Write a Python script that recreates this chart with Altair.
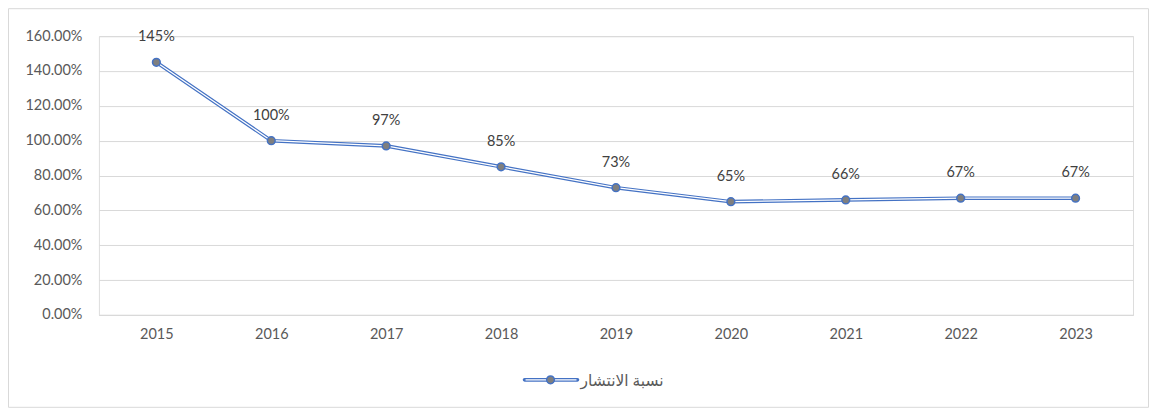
import altair as alt
import pandas as pd

years = ["2015", "2016", "2017", "2018", "2019", "2020", "2021", "2022", "2023"]
values = [1.45, 1.00, 0.97, 0.85, 0.73, 0.65, 0.66, 0.67, 0.67]
y_ticks = [0, 0.2, 0.4, 0.6, 0.8, 1.0, 1.2, 1.4, 1.6]
series_name = "نسبة الانتشار"

df = pd.DataFrame({"year": years, "value": values})

W, H = 1035, 279
PAD_L, PAD_T, PAD_R, PAD_B = 91, 28, 16, 93
BLUE = "#4472C4"
FONT = "Lato, DejaVu Sans, sans-serif"
FS = 14.5

x_enc = alt.X("year:N", sort=years, scale=alt.Scale(type="point", padding=0.5),
              axis=alt.Axis(title=None, labelAngle=0, ticks=False, domain=True,
                            domainColor="#d9d9d9", labelPadding=13, labelFontSize=FS,
                            labelColor="#595959", labelFont=FONT, grid=False))
y_enc = alt.Y("value:Q", scale=alt.Scale(domain=[0, 1.6], nice=False),
              axis=alt.Axis(title=None, values=y_ticks, format=".2%", ticks=False,
                            domain=False, labelPadding=17, labelFontSize=FS,
                            labelColor="#595959", labelFont=FONT, gridColor="#d9d9d9",
                            gridWidth=1))

base = alt.Chart(df).encode(x=x_enc, y=y_enc)

outer = base.mark_line(color=BLUE, strokeWidth=3.6)
inner = base.mark_line(color="white", strokeWidth=1.3)
pts = base.mark_point(filled=True, fill="#7f7f7f", stroke=BLUE, strokeWidth=1.5,
                      size=60, opacity=1, shape="circle")
labels = base.mark_text(dy=-25, fontSize=FS, color="#404040", font=FONT).encode(
    text=alt.Text("value:Q", format=".0%"))

# legend (decorative)
leg = pd.DataFrame({"name": [series_name]})
leg_base = alt.Chart(leg)
leg_outer = leg_base.mark_rule(color=BLUE, strokeWidth=3.6, strokeCap="round").encode(
    x=alt.value(426), x2=alt.value(479), y=alt.value(344))
leg_inner = leg_base.mark_rule(color="white", strokeWidth=1.3).encode(
    x=alt.value(427), x2=alt.value(478), y=alt.value(344))
leg_pt = leg_base.mark_point(filled=True, fill="#7f7f7f", stroke=BLUE, strokeWidth=1.5,
                             size=60, opacity=1).encode(x=alt.value(452), y=alt.value(344))
leg_txt = leg_base.mark_text(align="left", baseline="middle", fontSize=15.5,
                             color="#595959", font=FONT).encode(
    x=alt.value(482), y=alt.value(345), text="name:N")

# outer chart border (decorative)
border = leg_base.mark_rect(fill=None, stroke="#d9d9d9", strokeWidth=1).encode(
    x=alt.value(-PAD_L + 0.5), x2=alt.value(W + PAD_R - 0.5),
    y=alt.value(-PAD_T + 0.5), y2=alt.value(H + PAD_B - 0.5))

chart = alt.layer(border, outer, inner, pts, labels, leg_outer, leg_inner, leg_pt, leg_txt).properties(
    width=W, height=H,
    autosize=alt.AutoSizeParams(type="none"),
    padding={"left": PAD_L, "top": PAD_T, "right": PAD_R, "bottom": PAD_B},
).configure_view(stroke=None).configure(background="white")

chart.save("out.html", embed_options={"renderer": "svg", "actions": False})
